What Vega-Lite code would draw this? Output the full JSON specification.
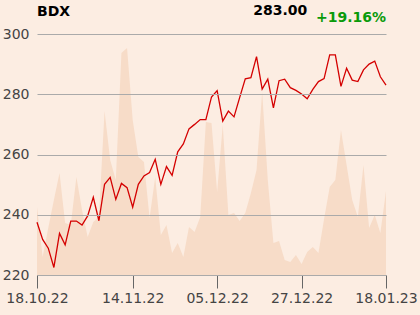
{
  "$schema": "https://vega.github.io/schema/vega-lite/v6.json",
  "width": 349,
  "height": 241,
  "autosize": {"type": "none"},
  "padding": {"left": 37, "top": 34, "right": 34, "bottom": 40},
  "background": "#fcede2",
  "config": {
    "view": {"stroke": null},
    "font": "DejaVu Sans",
    "axis": {"labelFont": "DejaVu Sans", "labelFontSize": 14, "labelColor": "#444444"}
  },
  "data": {
    "values": [
      {"d": "18.10.22", "p": 237.5, "v": 68},
      {"d": "19.10.22", "p": 231.8, "v": 18},
      {"d": "20.10.22", "p": 228.9, "v": 47},
      {"d": "21.10.22", "p": 222.5, "v": 75},
      {"d": "24.10.22", "p": 233.8, "v": 102},
      {"d": "25.10.22", "p": 230.0, "v": 52},
      {"d": "26.10.22", "p": 237.9, "v": 50},
      {"d": "27.10.22", "p": 237.9, "v": 98},
      {"d": "28.10.22", "p": 236.6, "v": 65},
      {"d": "31.10.22", "p": 239.6, "v": 38},
      {"d": "02.11.22", "p": 245.8, "v": 53},
      {"d": "03.11.22", "p": 238.0, "v": 58},
      {"d": "04.11.22", "p": 250.1, "v": 164},
      {"d": "07.11.22", "p": 252.4, "v": 115},
      {"d": "08.11.22", "p": 245.1, "v": 95},
      {"d": "09.11.22", "p": 250.4, "v": 222},
      {"d": "10.11.22", "p": 249.0, "v": 227},
      {"d": "14.11.22", "p": 242.5, "v": 155},
      {"d": "15.11.22", "p": 250.1, "v": 118},
      {"d": "16.11.22", "p": 252.9, "v": 113},
      {"d": "17.11.22", "p": 254.0, "v": 57},
      {"d": "18.11.22", "p": 258.4, "v": 98},
      {"d": "21.11.22", "p": 250.1, "v": 40},
      {"d": "22.11.22", "p": 256.0, "v": 50},
      {"d": "23.11.22", "p": 253.1, "v": 22},
      {"d": "24.11.22", "p": 260.9, "v": 32},
      {"d": "25.11.22", "p": 263.5, "v": 18},
      {"d": "28.11.22", "p": 268.5, "v": 48},
      {"d": "29.11.22", "p": 270.0, "v": 43},
      {"d": "30.11.22", "p": 271.6, "v": 58},
      {"d": "01.12.22", "p": 271.6, "v": 153},
      {"d": "02.12.22", "p": 279.1, "v": 152},
      {"d": "05.12.22", "p": 281.2, "v": 83},
      {"d": "06.12.22", "p": 271.1, "v": 150},
      {"d": "07.12.22", "p": 274.4, "v": 60},
      {"d": "08.12.22", "p": 272.5, "v": 62},
      {"d": "09.12.22", "p": 278.9, "v": 54},
      {"d": "12.12.22", "p": 285.1, "v": 62},
      {"d": "13.12.22", "p": 285.5, "v": 82},
      {"d": "14.12.22", "p": 292.5, "v": 105},
      {"d": "15.12.22", "p": 281.7, "v": 183},
      {"d": "16.12.22", "p": 285.0, "v": 95},
      {"d": "19.12.22", "p": 275.5, "v": 32},
      {"d": "20.12.22", "p": 284.5, "v": 34},
      {"d": "21.12.22", "p": 285.0, "v": 15},
      {"d": "22.12.22", "p": 282.2, "v": 13},
      {"d": "23.12.22", "p": 281.3, "v": 20},
      {"d": "27.12.22", "p": 280.1, "v": 11},
      {"d": "28.12.22", "p": 278.5, "v": 23},
      {"d": "29.12.22", "p": 281.6, "v": 28},
      {"d": "30.12.22", "p": 284.2, "v": 22},
      {"d": "02.01.23", "p": 285.2, "v": 56},
      {"d": "03.01.23", "p": 293.1, "v": 88},
      {"d": "04.01.23", "p": 293.1, "v": 95},
      {"d": "05.01.23", "p": 282.6, "v": 145},
      {"d": "09.01.23", "p": 288.6, "v": 110},
      {"d": "10.01.23", "p": 284.7, "v": 75},
      {"d": "11.01.23", "p": 284.2, "v": 58},
      {"d": "12.01.23", "p": 288.1, "v": 110},
      {"d": "13.01.23", "p": 290.0, "v": 47},
      {"d": "16.01.23", "p": 291.0, "v": 60},
      {"d": "17.01.23", "p": 285.8, "v": 42},
      {"d": "18.01.23", "p": 283.0, "v": 84}
    ]
  },
  "encoding": {
    "x": {
      "field": "d",
      "type": "ordinal",
      "sort": null,
      "scale": {"type": "point", "padding": 0},
      "axis": {
        "title": null,
        "values": ["18.10.22", "14.11.22", "05.12.22", "27.12.22", "18.01.23"],
        "labelAngle": 0,
        "labelOverlap": false,
        "tickSize": 13,
        "tickColor": "#666666",
        "domainColor": "#888888",
        "labelPadding": 3,
        "grid": false
      }
    }
  },
  "layer": [
    {
      "mark": {"type": "area", "color": "#f7dcc8", "interpolate": "linear"},
      "encoding": {
        "y": {"field": "v", "type": "quantitative", "scale": {"domain": [0, 241]}, "axis": null}
      }
    },
    {
      "encoding": {
        "y": {
          "field": "p",
          "type": "quantitative",
          "scale": {"domain": [220, 300], "nice": false, "zero": false},
          "axis": {
            "title": null,
            "values": [220, 240, 260, 280, 300],
            "ticks": false,
            "domain": false,
            "grid": true,
            "gridColor": "#aaaaaa",
            "labelPadding": 8,
            "zindex": 1
          }
        }
      },
      "layer": [
        {"mark": {"type": "line", "color": "#d40000", "strokeWidth": 1.3}},
        {
          "transform": [{"filter": "datum.d == '18.10.22'"}],
          "mark": {"type": "text", "text": "BDX", "align": "left", "baseline": "alphabetic", "fontSize": 14, "fontWeight": "bold", "color": "#000000"},
          "encoding": {"y": {"datum": 306.1}}
        },
        {
          "transform": [{"filter": "datum.d == '28.12.22'"}],
          "mark": {"type": "text", "text": "283.00", "align": "right", "baseline": "alphabetic", "fontSize": 14, "fontWeight": "bold", "color": "#000000"},
          "encoding": {"y": {"datum": 306.3}}
        },
        {
          "transform": [{"filter": "datum.d == '18.01.23'"}],
          "mark": {"type": "text", "text": "+19.16%", "align": "right", "baseline": "alphabetic", "fontSize": 14, "fontWeight": "bold", "color": "#0a9a0a"},
          "encoding": {"y": {"datum": 304.0}}
        }
      ]
    }
  ],
  "resolve": {"scale": {"y": "independent"}}
}
